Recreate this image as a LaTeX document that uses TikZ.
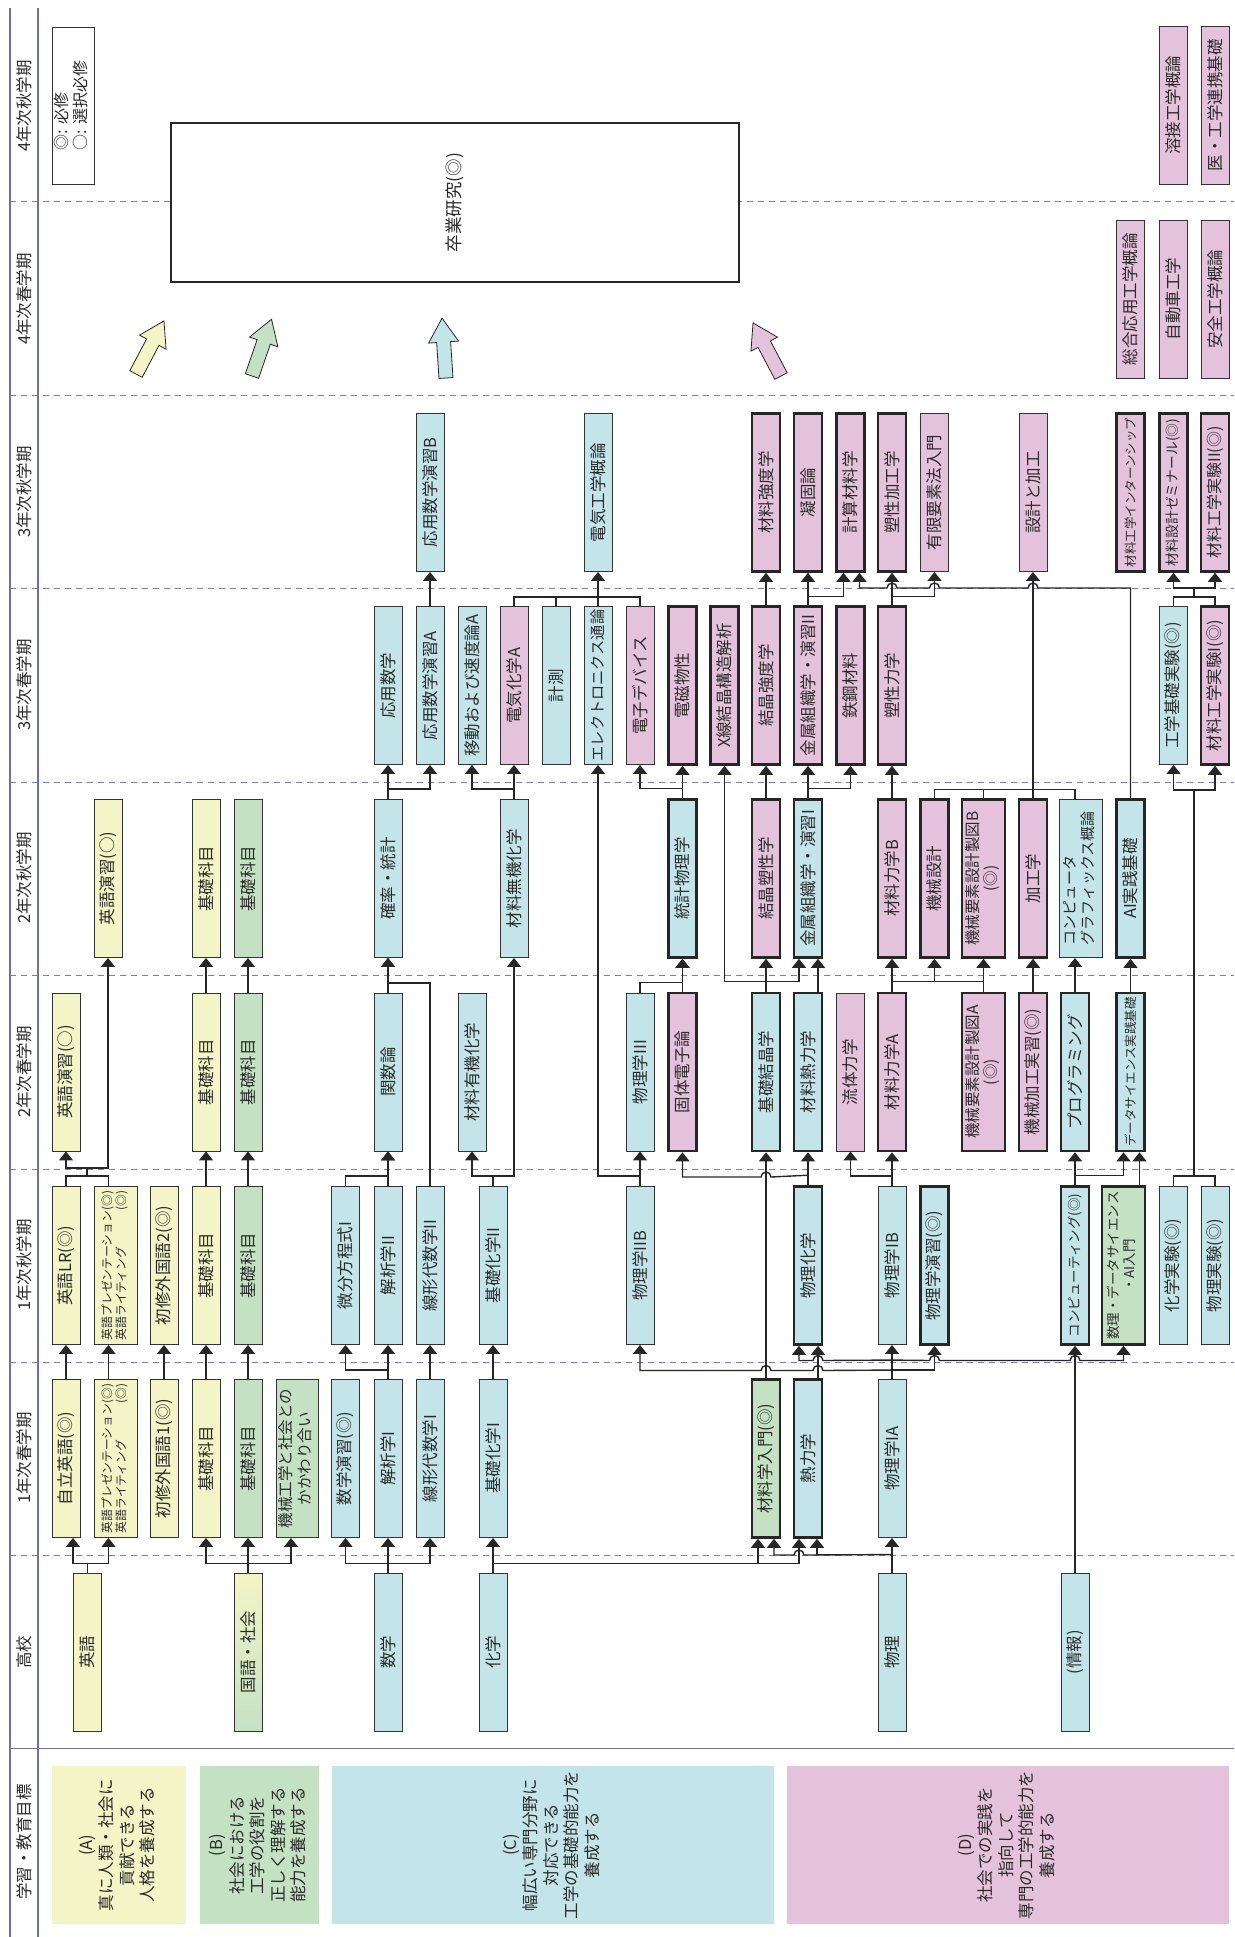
\documentclass[tikz,border=0pt]{standalone}
\usepackage{fontspec}
\setmainfont{Noto Sans CJK JP}
\usetikzlibrary{arrows.meta}
\definecolor{cY}{HTML}{F3F5C6}
\definecolor{cG}{HTML}{C4E2C3}
\definecolor{cB}{HTML}{C3E5EA}
\definecolor{cP}{HTML}{E5C2DC}
\definecolor{cAx}{HTML}{6E6EAA}
\definecolor{cDa}{HTML}{7C7CB4}
\definecolor{cTx}{HTML}{2A2A2A}
\newcommand\fz[2]{\fontsize{#1}{#2}\selectfont}
\newcommand\R[1]{\rotatebox{90}{#1}}
\newcommand\RR[2]{\rotatebox{90}{\begin{tabular}{@{}c@{}}#1\\#2\end{tabular}}}
\newcommand\RL[2]{\rotatebox{90}{\begin{tabular}{@{}l@{}}#1\\#2\end{tabular}}}
\newcommand\blockarrow[3]{%
  \begin{scope}[shift={#1},rotate=#2]
    \filldraw[fill=#3,draw=black!85,line width=0.8pt] (0pt,-7pt) -- (36pt,-7pt) -- (36pt,-15pt) -- (60pt,0pt) -- (36pt,15pt) -- (36pt,7pt) -- (0pt,7pt) -- cycle;
  \end{scope}}
\tikzset{
  bx/.style={draw=black!80, line width=0.9pt, minimum width=28pt, minimum height=158pt, inner sep=0pt, text=cTx, font=\fz{16.5}{18}},
  wd/.style={minimum width=43pt},
  tk/.style={line width=2.6pt, draw=black!85},
  Y/.style={fill=cY}, G/.style={fill=cG}, B/.style={fill=cB}, P/.style={fill=cP},
  ln/.style={line width=1.4pt, draw=black!85},
  ar/.style={ln, -{Triangle[width=14pt,length=9pt]}},
  hd/.style={inner sep=0pt, text=cTx, font=\fz{16.5}{18}},
  goal/.style={inner sep=0pt, minimum height=158pt, text=cTx, font=\fz{16.5}{20.5}},
}
\begin{document}
\begin{tikzpicture}[x=1pt,y=-1pt]
\useasboundingbox[fill=white] (0,0) rectangle (1234,1937);
% ---- axes and grid
\foreach \yy in {202,395,588,782,975,1169,1362,1555}
  \draw[cDa, line width=1pt, dash pattern=on 6pt off 5pt] (10,\yy) -- (1234,\yy);
\draw[cAx, line width=1pt] (10,1748) -- (1234,1748);
\draw[cAx, line width=1.3pt] (10,8) -- (10,1937);
\draw[cAx, line width=1.3pt] (38,8) -- (38,1937);
% ---- headers
\node[hd] (t1) at (24,106) {\R{4年次秋学期}};
\node[hd] (t2) at (24,299) {\R{4年次春学期}};
\node[hd] (t3) at (24,492) {\R{3年次秋学期}};
\node[hd] (t4) at (24,685) {\R{3年次春学期}};
\node[hd] (t5) at (24,878) {\R{2年次秋学期}};
\node[hd] (t6) at (24,1072) {\R{2年次春学期}};
\node[hd] (t7) at (24,1265) {\R{1年次秋学期}};
\node[hd] (t8) at (24,1458) {\R{1年次春学期}};
\node[hd] (t9) at (24,1652) {\R{高校}};
\node[hd] (t10) at (24,1842) {\R{学習・教育目標}};
% ---- legend and graduation research
\node[draw=black!80, line width=0.9pt, minimum width=42pt, minimum height=157pt, inner sep=0pt, text=cTx, font=\fz{16}{19}] (leg) at (73,105.5) {\RL{◎: 必修}{○: 選択必修}};
\node[draw=black!85, line width=2.8pt, fill=white, minimum width=568pt, minimum height=159pt, text=cTx, font=\fz{17.5}{20}] (grad) at (455,202.5) {\R{卒業研究(◎)}};
\blockarrow{(136,374)}{62.2}{cY}
\blockarrow{(252,376)}{71}{cG}
\blockarrow{(446,378)}{93.8}{cB}
\blockarrow{(781,376)}{117.8}{cP}
% ---- 4th year
\node[bx,P] (kWE) at (1173.5,105.5) {\R{溶接工学概論}};
\node[bx,P] (kMD) at (1215,105.5) {\R{医・工学連携基礎}};
\node[bx,P] (gSO) at (1130.5,299) {\R{総合応用工学概論}};
\node[bx,P] (gAU) at (1173.5,299) {\R{自動車工学}};
\node[bx,P] (gSA) at (1215,299) {\R{安全工学概論}};
% ---- 3rd year autumn
\node[bx,B] (fAB) at (430,492.5) {\R{応用数学演習B}};
\node[bx,B] (fEE) at (598,492.5) {\R{電気工学概論}};
\node[bx,P,tk] (fMS) at (766,492.5) {\R{材料強度学}};
\node[bx,P,tk] (fSO) at (808,492.5) {\R{凝固論}};
\node[bx,P,tk] (fCM) at (850.5,492.5) {\R{計算材料学}};
\node[bx,P,tk] (fPW) at (892,492.5) {\R{塑性加工学}};
\node[bx,P] (fFE) at (934.5,492.5) {\R{有限要素法入門}};
\node[bx,P] (fDM) at (1033,492.5) {\R{設計と加工}};
\node[bx,P,tk,font=\fz{12.5}{14}] (fIN) at (1130.5,492.5) {\R{材料工学インターンシップ}};
\node[bx,P,tk,font=\fz{13.8}{15}] (fSE) at (1173.5,492.5) {\R{材料設計ゼミナール(◎)}};
\node[bx,P,tk,font=\fz{16}{17}] (fLX) at (1215,492.5) {\R{材料工学実験II(◎)}};
% ---- 3rd year spring
\node[bx,B] (eAM) at (388,685.5) {\R{応用数学}};
\node[bx,B] (eAA) at (430,685.5) {\R{応用数学演習A}};
\node[bx,B] (eTR) at (472,685.5) {\R{移動および速度論A}};
\node[bx,P] (eEC) at (514,685.5) {\R{電気化学A}};
\node[bx,B] (eMS) at (556,685.5) {\R{計測}};
\node[bx,B,font=\fz{15.2}{16}] (eEL) at (598,685.5) {\R{エレクトロニクス通論}};
\node[bx,P] (eED) at (640,685.5) {\R{電子デバイス}};
\node[bx,P,tk] (eEM) at (682.5,685.5) {\R{電磁物性}};
\node[bx,P,tk] (eXR) at (724.5,685.5) {\R{X線結晶構造解析}};
\node[bx,P,tk] (eCS) at (766,685.5) {\R{結晶強度学}};
\node[bx,P,tk] (eMO) at (808,685.5) {\R{金属組織学・演習II}};
\node[bx,P,tk] (eST) at (850.5,685.5) {\R{鉄鋼材料}};
\node[bx,P,tk] (ePM) at (892,685.5) {\R{塑性力学}};
\node[bx,B] (eEX) at (1173.5,685.5) {\R{工学基礎実験(◎)}};
\node[bx,P,tk] (eLX) at (1215,685.5) {\R{材料工学実験I(◎)}};
% ---- 2nd year autumn
\node[bx,Y] (dEE) at (108,878.5) {\R{英語演習(○)}};
\node[bx,Y] (dKY) at (206,878.5) {\R{基礎科目}};
\node[bx,G] (dKG) at (248,878.5) {\R{基礎科目}};
\node[bx,B] (dST) at (388,878.5) {\R{確率・統計}};
\node[bx,B] (dIC) at (514,878.5) {\R{材料無機化学}};
\node[bx,B,tk] (dSP) at (682.5,878.5) {\R{統計物理学}};
\node[bx,P,tk] (dCP) at (766,878.5) {\R{結晶塑性学}};
\node[bx,B,tk] (dMO) at (808,878.5) {\R{金属組織学・演習I}};
\node[bx,P,tk] (dMB) at (892,878.5) {\R{材料力学B}};
\node[bx,P,tk] (dMD) at (934.5,878.5) {\R{機械設計}};
\node[bx,P,tk,wd,font=\fz{15.5}{17}] (dDB) at (983.5,878.5) {\RR{機械要素設計製図B}{(◎)}};
\node[bx,P,tk] (dPR) at (1033,878.5) {\R{加工学}};
\node[bx,B,wd,font=\fz{15}{17}] (dCG) at (1081,878.5) {\RL{コンピュータ}{グラフィックス概論}};
\node[bx,B,tk] (dAI) at (1130.5,878.5) {\R{AI実践基礎}};
% ---- 2nd year spring
\node[bx,Y] (cEE) at (66,1072) {\R{英語演習(○)}};
\node[bx,Y] (cKY) at (206,1072) {\R{基礎科目}};
\node[bx,G] (cKG) at (248,1072) {\R{基礎科目}};
\node[bx,B] (cFU) at (388,1072) {\R{関数論}};
\node[bx,B] (cOC) at (472,1072) {\R{材料有機化学}};
\node[bx,B] (cP3) at (640,1072) {\R{物理学III}};
\node[bx,P,tk] (cSS) at (682.5,1072) {\R{固体電子論}};
\node[bx,B,tk] (cCR) at (766,1072) {\R{基礎結晶学}};
\node[bx,B,tk] (cMT) at (808,1072) {\R{材料熱力学}};
\node[bx,P] (cFL) at (850.5,1072) {\R{流体力学}};
\node[bx,P,tk] (cMA) at (892,1072) {\R{材料力学A}};
\node[bx,P,tk,wd,font=\fz{15.5}{17}] (cDA) at (983.5,1072) {\RR{機械要素設計製図A}{(◎)}};
\node[bx,P,tk] (cMW) at (1033,1072) {\R{機械加工実習(◎)}};
\node[bx,B,tk] (cPR) at (1075,1072) {\R{プログラミング}};
\node[bx,B,tk,font=\fz{12.5}{14}] (cDP) at (1130.5,1072) {\R{データサイエンス実践基礎}};
% ---- 1st year autumn
\node[bx,Y] (bLR) at (66,1265.5) {\R{英語LR(◎)}};
\node[bx,Y,wd,font=\fz{11.8}{13.5}] (bEP) at (115.5,1265.5) {\rotatebox{90}{\begin{tabular}{@{}l@{}r@{}}英語プレゼンテーション&(◎)\\英語ライティング&(◎)\end{tabular}}};
\node[bx,Y] (bSF) at (164,1265.5) {\R{初修外国語2(◎)}};
\node[bx,Y] (bKY) at (206,1265.5) {\R{基礎科目}};
\node[bx,G] (bKG) at (248,1265.5) {\R{基礎科目}};
\node[bx,B] (bDE) at (345.5,1265.5) {\R{微分方程式I}};
\node[bx,B] (bAN) at (388,1265.5) {\R{解析学II}};
\node[bx,B] (bLA) at (430,1265.5) {\R{線形代数学II}};
\node[bx,B] (bCH) at (493,1265.5) {\R{基礎化学II}};
\node[bx,B] (bP2) at (640,1265.5) {\R{物理学IIB}};
\node[bx,B,tk] (bPC) at (808,1265.5) {\R{物理化学}};
\node[bx,B] (bPB) at (892,1265.5) {\R{物理学IB}};
\node[bx,B,tk] (bPE) at (934.5,1265.5) {\R{物理学演習(◎)}};
\node[bx,B,tk,font=\fz{13.5}{15}] (bCO) at (1075,1265.5) {\R{コンピューティング(◎)}};
\node[bx,G,tk,wd,font=\fz{13.5}{16}] (bDS) at (1123.5,1265.5) {\RR{数理・データサイエンス}{・AI入門}};
\node[bx,B] (bCX) at (1173.5,1265.5) {\R{化学実験(◎)}};
\node[bx,B] (bPX) at (1215,1265.5) {\R{物理実験(◎)}};
% ---- 1st year spring
\node[bx,Y] (aJE) at (66,1458.5) {\R{自立英語(◎)}};
\node[bx,Y,wd,font=\fz{11.8}{13.5}] (aEP) at (115.5,1458.5) {\rotatebox{90}{\begin{tabular}{@{}l@{}r@{}}英語プレゼンテーション&(◎)\\英語ライティング&(◎)\end{tabular}}};
\node[bx,Y] (aSF) at (164,1458.5) {\R{初修外国語1(◎)}};
\node[bx,Y] (aKY) at (206,1458.5) {\R{基礎科目}};
\node[bx,G] (aKG) at (248,1458.5) {\R{基礎科目}};
\node[bx,G,minimum width=42pt,font=\fz{15.5}{18}] (aMS) at (297,1458.5) {\RR{機械工学と社会との}{かかわり合い}};
\node[bx,B] (aME) at (345.5,1458.5) {\R{数学演習(◎)}};
\node[bx,B] (aAN) at (388,1458.5) {\R{解析学I}};
\node[bx,B] (aLA) at (430,1458.5) {\R{線形代数学I}};
\node[bx,B] (aCH) at (493,1458.5) {\R{基礎化学I}};
\node[bx,G,tk] (aMI) at (766,1458.5) {\R{材料学入門(◎)}};
\node[bx,B,tk] (aTH) at (808,1458.5) {\R{熱力学}};
\node[bx,B] (aPA) at (892,1458.5) {\R{物理学IA}};
% ---- high school
\node[bx,Y] (sEN) at (87.5,1652) {\R{英語}};
\node[bx,top color=cY,bottom color=cG] (sKS) at (248,1652) {\R{国語・社会}};
\node[bx,B] (sMA) at (388,1652) {\R{数学}};
\node[bx,B] (sCH) at (493,1652) {\R{化学}};
\node[bx,B] (sPH) at (892,1652) {\R{物理}};
\node[bx,B] (sIN) at (1075,1652) {\R{(情報)}};
% ---- goals
\node[goal,fill=cY,minimum width=134pt] (gA) at (119,1845) {\rotatebox{90}{\begin{tabular}{@{}c@{}}(A)\\真に人類・社会に\\貢献できる\\人格を養成する\end{tabular}}};
\node[goal,fill=cG,minimum width=119pt] (gB) at (259.5,1845) {\rotatebox{90}{\begin{tabular}{@{}c@{}}(B)\\社会における\\工学の役割を\\正しく理解する\\能力を養成する\end{tabular}}};
\node[goal,fill=cB,minimum width=442pt] (gC) at (553,1845) {\rotatebox{90}{\begin{tabular}{@{}c@{}}(C)\\幅広い専門分野に\\対応できる\\工学の基礎的能力を\\養成する\end{tabular}}};
\node[goal,fill=cP,minimum width=442pt] (gD) at (1008,1845) {\rotatebox{90}{\begin{tabular}{@{}c@{}}(D)\\社会での実践を\\指向して\\専門の工学的能力を\\養成する\end{tabular}}};

% ================= connectors
% high school -> 1st spring
\draw[ar] (sEN.north) -- ++(0,-9) -| ([xshift=7pt]aJE.south);
\draw[ar] (sEN.north) -- ++(0,-9) -| ([xshift=-7pt]aEP.south);
\draw[ar] (sKS.north) -- ++(0,-9) -| (aKY.south);
\draw[ar] (sKS.north) -- (aKG.south);
\draw[ar] (sKS.north) -- ++(0,-9) -| ([xshift=-6pt]aMS.south);
\draw[ar] (sMA.north) -- ++(0,-9) -| (aME.south);
\draw[ar] (sMA.north) -- (aAN.south);
\draw[ar] (sMA.north) -- ++(0,-9) -| (aLA.south);
\draw[ar] (sCH.north) -- (aCH.south);
\draw[ar] (sCH.north) -- ++(0,-9) -| ([xshift=-8pt]aMI.south);
\draw[ar] (sCH.north) -- ++(0,-9) -| ([xshift=-9pt]aTH.south);
\draw[ar] (sPH.north) -- (aPA.south);
\draw[ar] (sPH.north) -- ++(0,-18) -- (804,1555) arc[start angle=0,end angle=180,radius=5pt] -| ([xshift=8pt]aMI.south);
\draw[ar] (sPH.north) -- ++(0,-18) -| ([xshift=9pt]aTH.south);
\draw[ar] (sIN.north) -- (bCO.south);
% 1st spring -> 1st autumn
\draw[ar] (aJE.north) -- (bLR.south);
\draw[ar] ([xshift=-7pt]aEP.north) -- ([xshift=-7pt]bEP.south);
\draw[ar] (aSF.north) -- (bSF.south);
\draw[ar] (aKY.north) -- (bKY.south);
\draw[ar] (aKG.north) -- (bKG.south);
\draw[ar] (aAN.north) -- (bAN.south);
\draw[ar] (aAN.north) -- ++(0,-9) -| (bDE.south);
\draw[ar] (aLA.north) -- (bLA.south);
\draw[ar] (aCH.north) -- (bCH.south);
\draw[ar] (aMI.north) -- (cCR.south);
\draw[ar] ([xshift=10pt]aTH.north) -- ([xshift=10pt]bPC.south);
\draw[ar] (aPA.north) -- (bPB.south);
\draw[ar] (aPA.north) -- ++(0,-9) -- (823,1370.5) arc[start angle=0,end angle=180,radius=5pt] -- (771,1370.5) arc[start angle=0,end angle=180,radius=5pt] -| (bP2.south);
\draw[ar] (aPA.north) -- ++(0,-9) -| (bPE.south);
\draw[ar] (aPA.north) -- ++(0,-19) -- (823,1360.5) arc[start angle=0,end angle=180,radius=5pt] -| ([xshift=-9pt]bPC.south);
\draw[ar] (aPA.north) -- ++(0,-19) -- (929.5,1360.5) arc[start angle=180,end angle=0,radius=5pt] -- (1070,1360.5) arc[start angle=180,end angle=0,radius=5pt] -| (bDS.south);
% 1st autumn -> 2nd spring
\coordinate (jE1) at (87,1177);
\coordinate (jE2) at (87,1168);
\draw[ln] (bLR.north) -- ++(0,-10) -| ([xshift=-7pt]bEP.north);
\draw[ln] (jE1) -- (jE2);
\draw[ar] (jE2) -| (cEE.south);
\draw[ar] (jE2) -| (dEE.south);
\draw[ar] (bKY.north) -- (cKY.south);
\draw[ar] (bKG.north) -- (cKG.south);
\draw[ar] (bDE.north) -- ++(0,-10) -| (cFU.south);
\draw[ar] (bAN.north) -- (cFU.south);
\draw[ar] (bLA.north) -- (430,983) -| (dST.south);
\draw[ar] (bCH.north) -- ++(0,-10) -| (cOC.south);
\draw[ar] (bCH.north) -- ++(0,-10) -| (dIC.south);
\draw[ar] (bP2.north) -- (cP3.south);
\draw[ar] (bP2.north) -- ++(0,-10) -| (eEL.south);
\draw[ar] (bPC.north) -- (cMT.south);
\draw[ar] (bPC.north) -- ++(0,-10) -- (771,1177) arc[start angle=0,end angle=180,radius=5pt] -| (cSS.south);
\draw[ar] (bPB.north) -- (cMA.south);
\draw[ar] (bPB.north) -- ++(0,-10) -| (cFL.south);
\draw[ar] (bCO.north) -- (cPR.south);
\draw[ar] (bCO.north) -- ++(0,-10) -| ([xshift=-7pt]cDP.south);
\draw[ar] ([xshift=16pt]bDS.north) -- ([xshift=9pt]cDP.south);
\coordinate (jX) at (1194,1177);
\coordinate (jX2) at (1194,790);
\draw[ln] (bCX.north) -- ++(0,-10) -| (bPX.north);
\draw[ln] (jX) -- (jX2);
\draw[ar] (jX2) -| (eEX.south);
\draw[ar] (jX2) -| (eLX.south);
% 2nd spring -> 2nd autumn
\draw[ar] (cKY.north) -- (dKY.south);
\draw[ar] (cKG.north) -- (dKG.south);
\draw[ar] (cFU.north) -- (dST.south);
\draw[ar] (cP3.north) -- ++(0,-10) -| (dSP.south);
\draw[ar] (cSS.north) -- (dSP.south);
\draw[ar] (cCR.north) -- (dCP.south);
\draw[ar] (cCR.north) -- ++(0,-10) -| (eXR.south);
\draw[ar] (cCR.north) -- ++(0,-10) -| ([xshift=-9pt]dMO.south);
\draw[ar] ([xshift=10pt]cMT.north) -- ([xshift=10pt]dMO.south);
\draw[ar] (cMA.north) -- (dMB.south);
\draw[ar] (cMA.north) -- ++(0,-10) -| (dMD.south);
\draw[ar] (cMA.north) -- ++(0,-10) -| (dDB.south);
\draw[ln] (cDA.north) -- ++(0,-10);
\draw[ar] (cMW.north) -- (dPR.south);
\draw[ar] (cPR.north) -- ([xshift=-6pt]dCG.south);
\draw[ar] (cDP.north) -- (dAI.south);
% 2nd autumn -> 3rd spring
\draw[ar] (dST.north) -- (eAM.south);
\draw[ar] (dST.north) -- ++(0,-10) -| (eAA.south);
\draw[ar] (dIC.north) -- (eEC.south);
\draw[ar] (dIC.north) -- ++(0,-10) -| (eTR.south);
\draw[ar] (dSP.north) -- (eEM.south);
\draw[ar] (dSP.north) -- ++(0,-10) -| (eED.south);
\draw[ar] (dCP.north) -- (eCS.south);
\draw[ar] (dMO.north) -- (eMO.south);
\draw[ar] (dMO.north) -- ++(0,-10) -| (eST.south);
\draw[ar] (dMB.north) -- (ePM.south);
\draw[ln] (dMD.north) -- ++(0,-9) -| ([xshift=-6pt]dCG.north);
\draw[ln] (dDB.north) -- ++(0,-9);
\draw[ar] (dPR.north) -- (fDM.south);
\draw[ar] (dAI.north) -- (1130.5,588) -- (1038,588) arc[start angle=0,end angle=180,radius=5pt] -- (939.5,588) arc[start angle=0,end angle=180,radius=5pt] -- (897,588) arc[start angle=0,end angle=180,radius=5pt] -| ([xshift=9pt]fCM.south);
% 3rd spring -> 3rd autumn
\draw[ar] (eAA.north) -- (fAB.south);
\draw[ln] (eEC.north) -- ++(0,-9) -| (eED.north);
\draw[ln] (eMS.north) -- ++(0,-9);
\draw[ar] (eEL.north) -- (fEE.south);
\draw[ar] (eCS.north) -- (fMS.south);
\draw[ar] (eMO.north) -- (fSO.south);
\draw[ar] (eMO.north) -- ++(0,-9) -| ([xshift=-7pt]fCM.south);
\draw[ar] (ePM.north) -- (fPW.south);
\draw[ar] (ePM.north) -- ++(0,-9) -| (fFE.south);
\coordinate (jL1) at (1194,597);
\coordinate (jL2) at (1194,588);
\draw[ln] (eEX.north) -- ++(0,-9) -| (eLX.north);
\draw[ln] (jL1) -- (jL2);
\draw[ar] (jL2) -| (fSE.south);
\draw[ar] (jL2) -| (fLX.south);
\end{tikzpicture}
\end{document}
